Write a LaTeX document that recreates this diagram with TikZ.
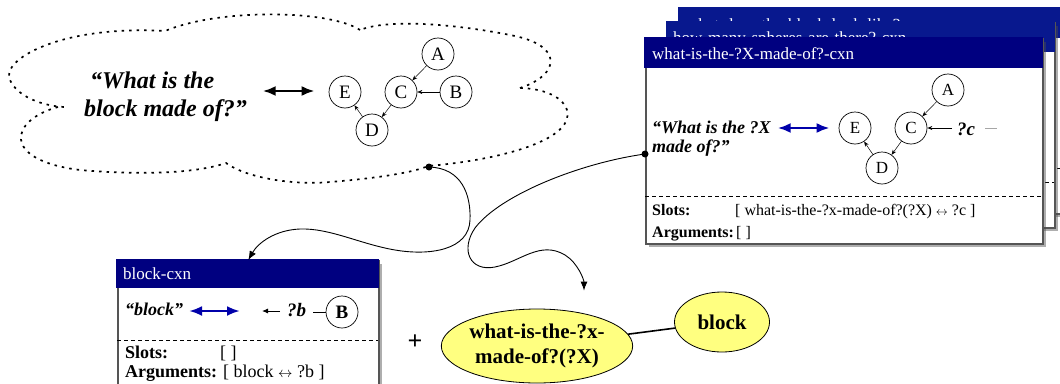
\documentclass[tikz,border=0pt]{standalone}
\usepackage{fontspec}
\setmainfont{Liberation Serif}
\usetikzlibrary{arrows.meta,shapes.geometric,shadows}

\definecolor{cxnnavy}{RGB}{0,0,128}
\definecolor{cxnnavyback}{RGB}{8,24,142}
\definecolor{cxnframe}{RGB}{85,85,85}
\definecolor{linkblue}{RGB}{0,0,170}
\definecolor{predyellow}{RGB}{255,255,128}

\begin{document}
\begin{tikzpicture}[x=1pt,y=-1pt,
  cloudline/.style={line width=1.7pt, dash pattern=on 2.5pt off 5pt},
  gnode/.style={circle, draw, line width=0.7pt, minimum size=32pt, inner sep=0pt, fill=white,
    font=\fontsize{19}{19}\selectfont},
  fnode/.style={gnode, font=\fontsize{17}{17}\selectfont},
  gedge/.style={-{Stealth[length=5pt,width=4pt]}, line width=0.5pt},
  bigquote/.style={anchor=base west, inner sep=0pt, font=\fontsize{24}{27}\selectfont\bfseries\itshape},
  qtext/.style={anchor=base west, inner sep=0pt, font=\fontsize{18}{19}\selectfont\bfseries\itshape},
  pairarrow/.style={{Latex[length=13pt,width=10pt]}-{Latex[length=13pt,width=10pt]}, line width=2.8pt},
  bluepair/.style={{Latex[length=13pt,width=10pt]}-{Latex[length=13pt,width=10pt]}, line width=2.6pt, draw=linkblue},
  cxnbox/.style={draw=cxnframe, line width=1.6pt, fill=white, inner sep=0pt, anchor=north west,
    drop shadow={shadow xshift=3pt, shadow yshift=-3pt, opacity=0.45, fill=black!70}},
  titletext/.style={anchor=base west, inner sep=0pt, text=white, font=\fontsize{17}{17}\selectfont},
  slotlabel/.style={anchor=base west, inner sep=0pt, font=\fontsize{16}{16}\selectfont\bfseries},
  slottext/.style={anchor=base west, inner sep=0pt, font=\fontsize{16}{16}\selectfont},
  slotrule/.style={dash pattern=on 4pt off 3pt, line width=0.8pt},
  flowarrow/.style={line width=0.9pt, -{Latex[length=9pt,width=7pt]}},
  predicate/.style={ellipse, draw, line width=0.8pt, fill=predyellow, inner sep=0pt, align=center,
    font=\fontsize{21}{25}\selectfont\bfseries}]

\useasboundingbox (0,0) rectangle (1060,383);
\clip (0,0) rectangle (1060,383);

% ---------------- thought cloud ----------------
\draw[cloudline]
  (360,30) .. controls (330,10) and (220,8) .. (165,31)
  .. controls (60,25) and (0,60) .. (10,80)
  .. controls (18,98) and (45,106) .. (64,107)
  (58,107) .. controls (10,120) and (0,160) .. (80,170)
  .. controls (150,176) and (200,172) .. (226,163)
  .. controls (250,180) and (300,185) .. (330,182)
  .. controls (380,178) and (415,172) .. (428,166)
  .. controls (500,160) and (575,140) .. (567,110)
  .. controls (562,95) and (540,88) .. (518,88)
  (520,88) .. controls (560,75) and (565,45) .. (510,35)
  .. controls (460,25) and (390,18) .. (360,30);

\node[bigquote] (cq1) at (90,88) {“What is the};
\node[bigquote] (cq2) at (84,116) {block made of?”};

\node[gnode] (cA) at (438,54) {A};
\node[gnode] (cC) at (401,92) {C};
\node[gnode] (cB) at (456,92) {B};
\node[gnode] (cE) at (345,92) {E};
\node[gnode] (cD) at (372,130) {D};
\draw[gedge] (cA) -- (cC);
\draw[gedge] (cB) -- (cC);
\draw[gedge] (cC) -- (cD);
\draw[gedge] (cD) -- (cE);
\draw[pairarrow] ([xshift=-66pt,yshift=1pt]cE.west) -- ([xshift=-14pt,yshift=1pt]cE.west);

\coordinate (clouddot) at (429,167);

% ---------------- stacked construction cards ----------------
\node[cxnbox, minimum width=392pt, minimum height=205pt] (box3) at (679,8) {};
\fill[cxnnavyback] (678,7) rectangle (1072,38);
\begin{scope}
  \clip (679,8) rectangle (1060,22);
  \node[titletext] (t3) at (686,30) {what-does-the-block-look-like?-cxn};
\end{scope}
\draw[slotrule] (679,168) -- (1071,168);

\node[cxnbox, minimum width=387pt, minimum height=205pt] (box2) at (667,22) {};
\fill[cxnnavyback] (666,21) rectangle (1055,52);
\node[titletext] (t2) at (673,43) {how-many-spheres-are-there?-cxn};
\draw[slotrule] (667,182) -- (1054,182);

\node[cxnbox, minimum width=397pt, minimum height=205pt] (box1) at (645,38) {};
\fill[cxnnavy] (644,37) rectangle (1043,68);
\node[titletext] (t1) at (652,59) {what-is-the-?X-made-of?-cxn};
\draw[slotrule] (645,196) -- (1042,196);

\node[qtext] (fq1) at (652,133) {“What is the ?X};
\node[qtext] (fq2) at (652,152) {made of?”};

\node[fnode] (fA) at (948,90) {A};
\node[fnode] (fC) at (911,128) {C};
\node[fnode] (fE) at (855,128) {E};
\node[fnode] (fD) at (882,168) {D};
\draw[gedge] (fA) -- (fC);
\draw[gedge] (fC) -- (fD);
\draw[gedge] (fD) -- (fE);
\draw[bluepair] ([xshift=-61pt]fE.west) -- ([xshift=-9pt]fE.west);
\node[qtext, font=\fontsize{19}{19}\selectfont\bfseries\itshape] (fvar) at (957,135) {?c};
\draw[-{Stealth[length=5pt,width=4pt]}, line width=0.9pt] ([xshift=-5pt]fvar.west |- fC.east) -- (fC.east);
\draw[line width=1pt, black!35] ([xshift=10pt]fvar.east |- fC.east) -- ++(12,0);

\node[slotlabel] (fsl) at (652,215) {Slots:};
\node[slottext] (fsv) at (735,215) {[ what-is-the-?x-made-of?(?X) {\fontsize{13}{13}\selectfont$\leftrightarrow$} ?c ]};
\node[slotlabel] (fal) at (652,237) {Arguments:};
\node[slottext] (fav) at (736,237) {[ ]};

\coordinate (whatdot) at (645,154);

% ---------------- lexical construction card ----------------
\node[cxnbox, minimum width=261pt, minimum height=150pt] (blockbox) at (117,260) {};
\fill[cxnnavy] (116,259) rectangle (379,288);
\node[titletext] (tb) at (123,279) {block-cxn};
\draw[slotrule] (117,340) -- (378,340);

\node[qtext] (bq) at (125,315) {“block”};
\draw[bluepair] (189,311) -- (240,311);
\node[gnode, font=\fontsize{19}{19}\selectfont\bfseries] (bB) at (342,312) {B};
\node[qtext, font=\fontsize{19}{19}\selectfont\bfseries\itshape] (bvar) at (287,316) {?b};
\draw[line width=0.9pt] (bB.west) -- ++(-13,0);
\draw[-{Latex[length=6pt,width=5pt]}, line width=0.9pt] (280,311) -- (262,311);

\node[anchor=base west, inner sep=0pt, font=\fontsize{18}{18}\selectfont\bfseries] (bsl) at (125,358) {Slots:};
\node[anchor=base west, inner sep=0pt, font=\fontsize{18}{18}\selectfont] (bsv) at (220,358) {[ ]};
\node[anchor=base west, inner sep=0pt, font=\fontsize{18}{18}\selectfont\bfseries] (bal) at (125,377) {Arguments:};
\node[anchor=base west, inner sep=0pt, font=\fontsize{18}{18}\selectfont] (bav) at (223,377) {[ block {\fontsize{14}{14}\selectfont$\leftrightarrow$} ?b ]};

% ---------------- resulting meaning ----------------
\node[font=\fontsize{26}{26}\selectfont\bfseries] (plus) at (415,342) {+};
\node[predicate, minimum width=166pt, minimum height=74pt] (pred) at (537,346) {what-is-the-?x-\\made-of?(?X)};
\node[predicate, minimum width=95pt, minimum height=60pt] (obj) at (722,322) {block};
\draw[line width=1.6pt] (pred) -- (obj);

% ---------------- links ----------------
\draw[flowarrow] (clouddot)
  .. controls (462,168) and (471,195) .. (470,220)
  .. controls (469,250) and (430,256) .. (395,250)
  .. controls (360,244) and (330,228) .. (300,229)
  .. controls (275,230) and (258,243) .. (blockbox.north);
\draw[flowarrow] (whatdot)
  .. controls (580,163) and (500,195) .. (475,228)
  .. controls (460,250) and (470,272) .. (495,267)
  .. controls (520,262) and (540,240) .. (565,255)
  .. controls (578,263) and (584,280) .. ([xshift=47pt,yshift=18pt]pred.north);
\fill (clouddot) circle[radius=3.5pt];
\fill (whatdot) circle[radius=3.5pt];
\end{tikzpicture}
\end{document}
